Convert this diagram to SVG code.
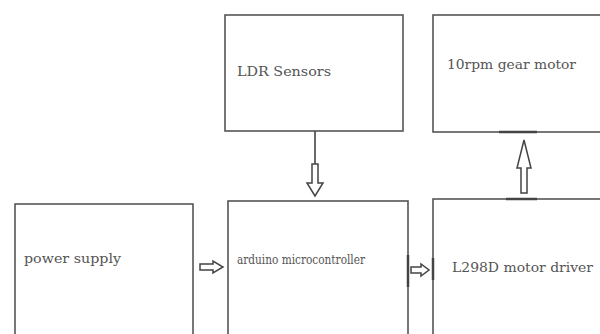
<svg xmlns="http://www.w3.org/2000/svg" width="600" height="334" viewBox="0 0 600 334">
<style>
.box{fill:#fff;stroke:#555;stroke-width:1.6}
.lbl{font-family:"DejaVu Serif","Liberation Serif",serif;fill:#555;font-size:13px}
.arr{fill:#fff;stroke:#444;stroke-width:1.5;stroke-linejoin:miter}
.ln{stroke:#444;stroke-width:1.6;fill:none}
.mk{stroke:#444;stroke-width:2.5;fill:none}
</style>
<rect width="600" height="334" fill="#fff"/>
<g id="ldr"><rect class="box" x="225" y="15" width="178" height="116"/><text class="lbl" x="237" y="76" textLength="94" lengthAdjust="spacingAndGlyphs">LDR Sensors</text></g>
<g id="motor"><rect class="box" x="433" y="15" width="180" height="117"/><text class="lbl" x="447" y="69" textLength="129" lengthAdjust="spacingAndGlyphs">10rpm gear motor</text></g>
<g id="power"><rect class="box" x="15" y="204" width="178" height="140"/><text class="lbl" x="24" y="263" textLength="97" lengthAdjust="spacingAndGlyphs">power supply</text></g>
<g id="arduino"><rect class="box" x="228" y="201" width="180" height="143"/><text class="lbl" x="237" y="264" font-size="10" textLength="128" lengthAdjust="spacingAndGlyphs">arduino microcontroller</text></g>
<g id="driver"><rect class="box" x="433" y="199" width="180" height="145"/><text class="lbl" x="452" y="272" textLength="141" lengthAdjust="spacingAndGlyphs">L298D motor driver</text></g>
<g id="connectors">
<line class="ln" x1="315" y1="131" x2="315" y2="164"/>
<path class="arr" d="M312,164 H318 V183 H323 L315,196 L307,183 H312 Z"/>
<path class="arr" d="M521,193 H527 V168 H531 L524,140 L517,168 H521 Z"/>
<line class="mk" x1="499" y1="132" x2="537" y2="132"/>
<line class="mk" x1="506" y1="199" x2="537" y2="199"/>
<path class="arr" d="M200,264 H213 V261 L223,267 L213,273 V270 H200 Z"/>
<path class="arr" d="M411,267 H421 V264 L429,270 L421,276 V273 H411 Z"/>
<line class="mk" x1="408" y1="255" x2="408" y2="287"/>
<line class="mk" x1="433" y1="258" x2="433" y2="280"/>
</g>
</svg>
